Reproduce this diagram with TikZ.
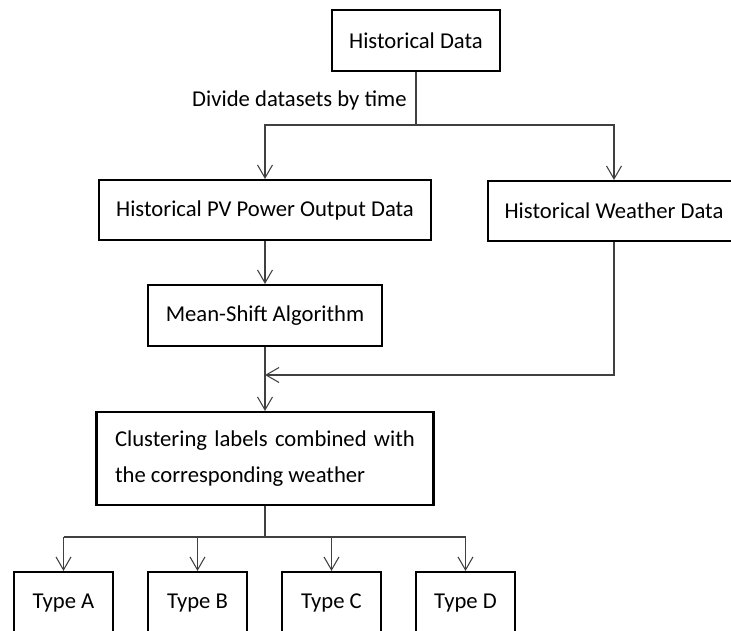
\documentclass[tikz,border=0pt]{standalone}
\usepackage{fontspec}
\setmainfont{Carlito}
\usetikzlibrary{arrows.meta}
\tikzset{
  box/.style={draw, line width=1.2pt, align=center, inner sep=0pt, font=\fontsize{12.9}{20}\selectfont},
  lbl/.style={inner sep=0pt, font=\fontsize{12.9}{15}\selectfont},
  link/.style={draw=black!75, line width=0.6pt},
  arr/.style={link, -{Straight Barb[length=2.6mm,width=3mm]}}
}
\begin{document}
\begin{tikzpicture}[x=0.02cm,y=-0.02cm]
\clip (0,0) rectangle (731,630);
\fill[white] (0,0) rectangle (731,630);
\node[box, minimum width=3.36cm, minimum height=1.22cm] (hist) at (416,40.5) {Historical Data};
\node[box, minimum width=6.64cm, minimum height=1.2cm] (pv) at (265,210) {Historical PV Power Output Data};
\node[box, minimum width=5.04cm, minimum height=1.2cm] (weather) at (614,211) {Historical Weather Data};
\node[box, minimum width=4.68cm, minimum height=1.22cm] (mean) at (265,315.5) {Mean-Shift Algorithm};
\node[box, minimum width=6.74cm, minimum height=1.86cm, align=left] (clus) at (265,458.5)
  {\makebox[6cm][s]{Clustering labels combined with}\\the corresponding weather};
\foreach \x/\v in {63.5/A,197.5/B,331.5/C,465.5/D}
  \node[box, minimum width=1.98cm, minimum height=1.24cm] (type\v) at (\x,603) {Type \v};
\node[lbl, anchor=east] (divide) at (407,100) {Divide datasets by time};
\coordinate (split) at (416,125);
\coordinate (join) at (265,375);
\coordinate (fork) at (265,537);
\draw[link] (hist) -- (split);
\draw[link] (pv |- split) -- (weather |- split);
\draw[arr] (split) -| (pv);
\draw[arr] (split) -| (weather);
\draw[arr] (pv) -- (mean);
\draw[arr] (mean) -- (clus);
\draw[arr] (weather) |- (join);
\draw[link] (clus) -- (fork);
\draw[link] (typeA |- fork) -- (typeD |- fork);
\foreach \v in {A,B,C,D} \draw[arr] (type\v |- fork) -- (type\v);
\end{tikzpicture}
\end{document}
